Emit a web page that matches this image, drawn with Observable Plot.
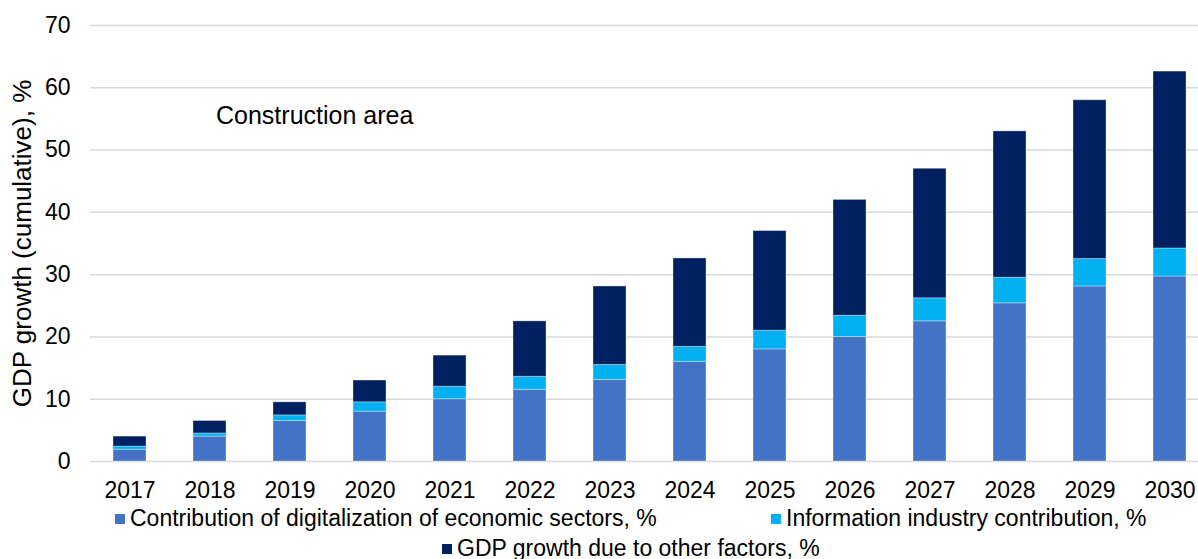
<!DOCTYPE html>
<html>
<head>
<meta charset="utf-8">
<script src="https://cdn.jsdelivr.net/npm/d3@7"></script>
<script src="https://cdn.jsdelivr.net/npm/@observablehq/plot@0.6"></script>
<style>
  html, body { margin: 0; padding: 0; background: #fff; }
  body { width: 1198px; height: 559px; position: relative; overflow: hidden; font-family: "Liberation Sans", Arial, sans-serif; }
  #chart svg { display: block; }
  .legend-item { position: absolute; font-size: 23px; color: #000; white-space: nowrap; line-height: 1; }
  .legend-item .sw { position: absolute; width: 10px; height: 10px; left: -15px; top: 7px; }
</style>
</head>
<body>
<div id="chart"></div>
<div id="legend"></div>
<script>
const years = ["2017","2018","2019","2020","2021","2022","2023","2024","2025","2026","2027","2028","2029","2030"];
const digitalization = [1.9, 4.0, 6.5, 8.0, 10.0, 11.5, 13.1, 16.0, 18.0, 20.0, 22.5, 25.4, 28.1, 29.7];
const infoIndustry   = [0.5, 0.5, 0.9, 1.5, 2.0, 2.1, 2.4, 2.4, 3.0, 3.4, 3.7, 4.1, 4.4, 4.5];
const otherFactors   = [1.6, 2.0, 2.1, 3.5, 5.0, 8.9, 12.6, 14.2, 16.0, 18.6, 20.8, 23.5, 25.5, 28.4];
const seriesNames = [
  "Contribution of digitalization of economic sectors, %",
  "Information industry contribution, %",
  "GDP growth due to other factors, %"
];
const seriesColors = ["#4472C4", "#00B0F0", "#002060"];
const yTicks = [0, 10, 20, 30, 40, 50, 60, 70];
const annotation = "Construction area";

const rows = [];
years.forEach((yr, i) => {
  rows.push({year: yr, series: seriesNames[0], value: digitalization[i]});
  rows.push({year: yr, series: seriesNames[1], value: infoIndustry[i]});
  rows.push({year: yr, series: seriesNames[2], value: otherFactors[i]});
});

const font = "'Liberation Sans', Arial, sans-serif";
const chart = Plot.plot({
  width: 1198,
  height: 505,
  marginLeft: 90,
  marginRight: 0,
  marginTop: 25,
  marginBottom: 44,
  style: {fontFamily: font, fontSize: "23px", color: "#000", background: "#fff"},
  x: {domain: years, range: [90, 1208], paddingInner: 0.59, paddingOuter: 0.28, label: null},
  y: {domain: [0, 70], ticks: yTicks},
  color: {domain: seriesNames, range: seriesColors},
  marks: [
    Plot.gridY(yTicks, {stroke: "#D9D9D9", strokeOpacity: 1, strokeWidth: 1.5}),
    Plot.axisY({ticks: yTicks, tickSize: 0, tickPadding: 20, fontSize: 23, label: null}),
    Plot.axisY({ticks: [], tickSize: 0, fontSize: 26,
      label: "GDP growth (cumulative), %", labelAnchor: "center", labelOffset: 78, labelArrow: "none"}),
    Plot.axisX({tickSize: 0, tickPadding: 20, fontSize: 23, label: null}),
    Plot.barY(rows, Plot.stackY({x: "year", y: "value", fill: "series", order: seriesNames, stroke: "#ffffff", strokeOpacity: 0.35, strokeWidth: 1})),
    Plot.text([annotation], {x: () => "2018", y: () => 55.5, text: d => d, textAnchor: "start", dx: 6, fontSize: 25})
  ]
});
document.getElementById("chart").appendChild(chart);

const legendPos = [
  {left: 130, top: 507},
  {left: 786, top: 507},
  {left: 457, top: 537}
];
const legend = document.getElementById("legend");
seriesNames.forEach((name, i) => {
  const item = document.createElement("div");
  item.className = "legend-item";
  item.style.left = legendPos[i].left + "px";
  item.style.top = legendPos[i].top + "px";
  const sw = document.createElement("span");
  sw.className = "sw";
  sw.style.background = seriesColors[i];
  item.appendChild(sw);
  item.appendChild(document.createTextNode(name));
  legend.appendChild(item);
});
</script>
</body>
</html>
